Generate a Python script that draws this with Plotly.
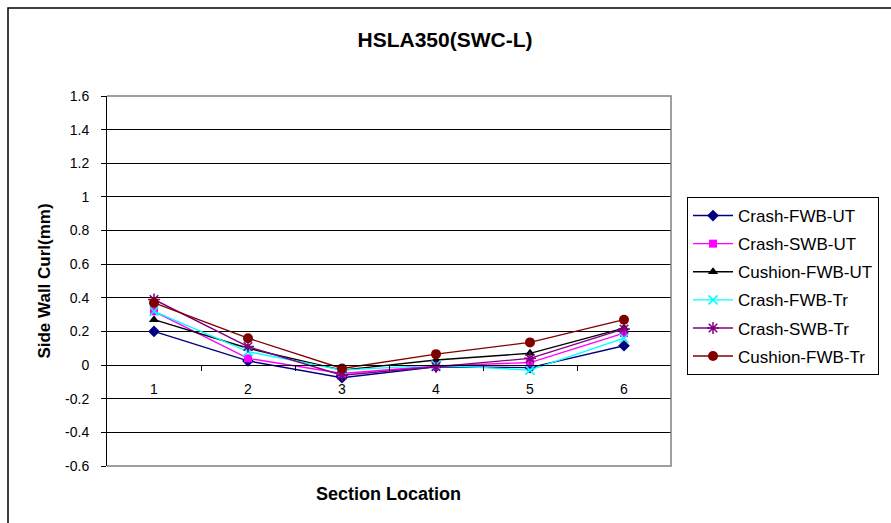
import plotly.graph_objects as go

# Section positions along the side wall
sections = [1, 2, 3, 4, 5, 6]

# Side wall curl (mm) per section
crash_fwb_ut = [0.20, 0.025, -0.075, -0.010, -0.015, 0.115]
crash_swb_ut = [0.32, 0.040, -0.050, -0.005, 0.015, 0.190]
cushion_fwb_ut = [0.27, 0.100, -0.030, 0.030, 0.070, 0.220]
crash_fwb_tr = [0.32, 0.080, -0.030, 0.000, -0.030, 0.160]
crash_swb_tr = [0.39, 0.110, -0.060, -0.010, 0.040, 0.215]
cushion_fwb_tr = [0.37, 0.160, -0.020, 0.065, 0.135, 0.270]

y_ticks = [1.6, 1.4, 1.2, 1.0, 0.8, 0.6, 0.4, 0.2, 0.0, -0.2, -0.4, -0.6]
y_tick_labels = ["1.6", "1.4", "1.2", "1", "0.8", "0.6", "0.4", "0.2", "0", "-0.2", "-0.4", "-0.6"]
x_tick_labels = ["1", "2", "3", "4", "5", "6"]

series = [
    ("Crash-FWB-UT", crash_fwb_ut, "#000080", dict(symbol="diamond", size=9, color="#000080")),
    ("Crash-SWB-UT", crash_swb_ut, "#FF00FF", dict(symbol="square", size=8, color="#FF00FF")),
    ("Cushion-FWB-UT", cushion_fwb_ut, "#000000", dict(symbol="triangle-up", size=9, color="#000000")),
    ("Crash-FWB-Tr", crash_fwb_tr, "#00FFFF", dict(symbol="x-thin-open", size=9, color="#00FFFF",
                                                   line=dict(color="#00FFFF", width=1.5))),
    ("Crash-SWB-Tr", crash_swb_tr, "#800080", dict(symbol="asterisk-open", size=10, color="#800080",
                                                   line=dict(color="#800080", width=1.5))),
    ("Cushion-FWB-Tr", cushion_fwb_tr, "#800000", dict(symbol="circle", size=10, color="#800000")),
]

fig = go.Figure()
for i, (name, vals, color, marker) in enumerate(series):
    fig.add_trace(go.Scatter(
        x=sections, y=vals, name=name, mode="lines+markers",
        line=dict(color=color, width=1.4), marker=marker,
        legendgroup=f"g{i}",
    ))

W, H = 891, 523
left, right, top, bottom = 107, 671, 96, 466
pw, ph = right - left, bottom - top
font = "Liberation Sans, Arial, sans-serif"

# position of the zero line as a fraction of plot height
zero_frac = (0 - (-0.6)) / (1.6 - (-0.6))

fig.update_layout(
    width=W, height=H,
    margin=dict(l=left, r=W - right, t=top, b=H - bottom, pad=0),
    paper_bgcolor="white", plot_bgcolor="white",
    font=dict(family=font, size=14, color="black"),
    title=dict(text="<b>HSLA350(SWC-L)</b>", x=(445) / W, xanchor="center",
               y=1 - 40 / H, yanchor="middle", font=dict(size=21)),
    xaxis=dict(
        range=[0.5, 6.5], tickvals=sections, ticktext=x_tick_labels,
        anchor="free", position=zero_frac, showgrid=False, zeroline=False,
        showline=True, linecolor="black", linewidth=1,
        ticks="", ticklabelstandoff=11,
        minor=dict(tickvals=[1.5, 2.5, 3.5, 4.5, 5.5], ticks="outside", ticklen=5,
                   tickcolor="black", showgrid=False),
        tickfont=dict(size=14),
    ),
    yaxis=dict(
        range=[-0.6, 1.6], tickvals=y_ticks, ticktext=y_tick_labels,
        showgrid=True, gridcolor="black", gridwidth=1, zeroline=False,
        showline=True, linecolor="black", linewidth=1,
        ticks="outside", ticklen=5, tickcolor="black", ticklabelstandoff=9,
        title=dict(text="<b>Side Wall Curl(mm)</b>", font=dict(size=17), standoff=10),
        tickfont=dict(size=14),
    ),
    legend=dict(
        x=(687 - left) / pw, y=(bottom - 197) / ph, xanchor="left", yanchor="top",
        bordercolor="black", borderwidth=1, bgcolor="white",
        font=dict(size=17), traceorder="grouped", tracegroupgap=3,
        itemwidth=40,
    ),
    annotations=[dict(
        text="<b>Section Location</b>", xref="paper", yref="paper",
        x=(388 - left) / pw, y=(bottom - 494) / ph, xanchor="center", yanchor="middle",
        showarrow=False, font=dict(size=18),
    )],
    shapes=[
        # plot area frame (top, right, bottom edges)
        dict(type="path", xref="paper", yref="paper",
             path="M 0,1 L 1,1 L 1,0 L 0,0", line=dict(color="#808080", width=1.5), layer="above"),
        # chart area border
        dict(type="rect", xref="paper", yref="paper",
             x0=(8 - left) / pw, y0=-0.5, x1=1.8, y1=(bottom - 8) / ph,
             line=dict(color="black", width=1.5), layer="below"),
    ],
)

fig.write_html("out.html")
